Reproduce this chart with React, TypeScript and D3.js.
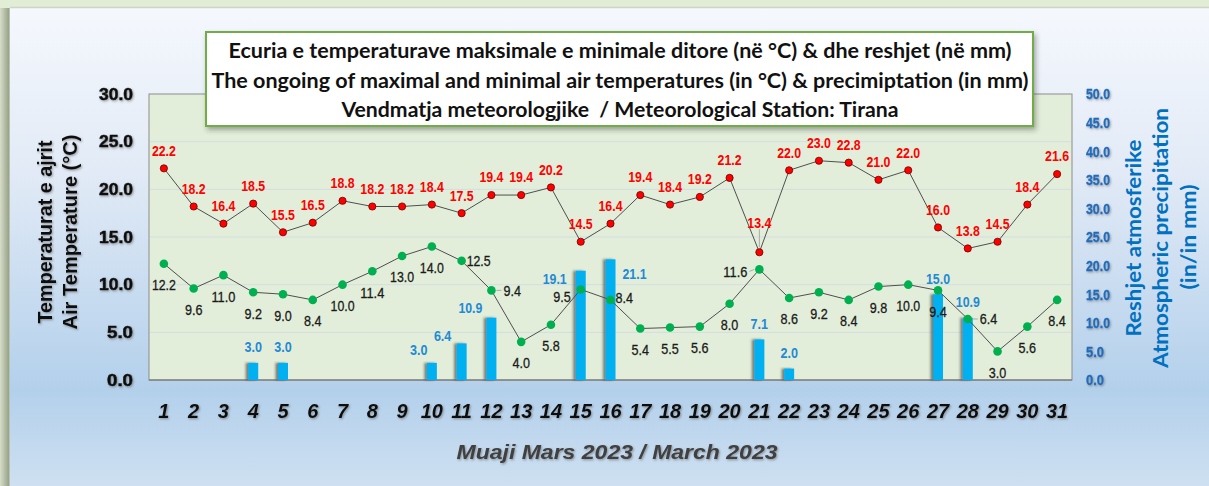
import React, { useEffect } from 'react';
import * as d3 from 'd3';

const days = [1, 2, 3, 4, 5, 6, 7, 8, 9, 10, 11, 12, 13, 14, 15, 16, 17, 18, 19, 20, 21, 22, 23, 24, 25, 26, 27, 28, 29, 30, 31];
const maxTemp = [22.2, 18.2, 16.4, 18.5, 15.5, 16.5, 18.8, 18.2, 18.2, 18.4, 17.5, 19.4, 19.4, 20.2, 14.5, 16.4, 19.4, 18.4, 19.2, 21.2, 13.4, 22.0, 23.0, 22.8, 21.0, 22.0, 16.0, 13.8, 14.5, 18.4, 21.6];
const minTemp = [12.2, 9.6, 11.0, 9.2, 9.0, 8.4, 10.0, 11.4, 13.0, 14.0, 12.5, 9.4, 4.0, 5.8, 9.5, 8.4, 5.4, 5.5, 5.6, 8.0, 11.6, 8.6, 9.2, 8.4, 9.8, 10.0, 9.4, 6.4, 3.0, 5.6, 8.4];
const precip = [0, 0, 0, 3.0, 3.0, 0, 0, 0, 0, 3.0, 6.4, 10.9, 0, 0, 19.1, 21.1, 0, 0, 0, 0, 7.1, 2.0, 0, 0, 0, 0, 15.0, 10.9, 0, 0, 0];
const tempTicks = [0, 5, 10, 15, 20, 25, 30];
const precipTicks = [0, 5, 10, 15, 20, 25, 30, 35, 40, 45, 50];
const titleLines = [
  'Ecuria e temperaturave maksimale e minimale ditore (në °C) & dhe reshjet (në mm)',
  'The ongoing of maximal and minimal air temperatures (in °C) & precimiptation (in mm)',
  'Vendmatja meteorologjike  / Meteorological Station: Tirana',
];
const leftTitle = ['Temperaturat e ajrit', 'Air Temperature (°C)'];
const rightTitle = ['Reshjet atmosferike', 'Atmospheric precipitation', '(in/in mm)'];
const xTitle = 'Muaji Mars 2023 / March 2023';

type Adj = { dx?: number; dy?: number; anchor?: 'start' | 'middle' | 'end'; leader?: boolean };
const maxLabelAdjust: Record<number, Adj> = { 21: { dy: -30, leader: true } };
const minLabelAdjust: Record<number, Adj> = {
  11: { dx: 5, dy: 0, anchor: 'start' },
  12: { dx: 12, dy: 0, anchor: 'start', leader: true },
  15: { dx: -10, dy: 7, anchor: 'end' },
  16: { dx: 5, dy: -2, anchor: 'start' },
  21: { dx: -12, dy: 2, anchor: 'end', leader: true },
  28: { dx: 12, dy: 0, anchor: 'start', leader: true },
};
const rainLabelAdjust: Record<number, Adj> = {
  10: { dx: -13, dy: -13 },
  11: { dx: -19, dy: -8 },
  12: { dx: -21, dy: -10 },
  15: { dx: -26, dy: 8 },
  16: { dx: 24, dy: 14 },
};

const W = 1209;
const H = 486;
const plot = { left: 149, right: 1072, top: 94, bottom: 380 };
const arial = '"Liberation Sans", Arial, sans-serif';
const lato = 'Lato, "Open Sans", sans-serif';
// narrow numeric labels: squeeze Liberation Sans to an Arial Narrow-like width
const narrowLen = (s: string) => (s.length >= 4 ? 24 : 17.5);

export default function App() {
  useEffect(() => {
    document.body.style.margin = '0';
    document.body.style.overflow = 'hidden';
  }, []);

  const x = d3.scaleBand<number>().domain(days).range([plot.left, plot.right]).padding(0);
  const cx = (d: number) => (x(d) as number) + x.bandwidth() / 2;
  const yT = d3.scaleLinear().domain([0, 30]).range([plot.bottom, plot.top]);
  const yP = d3.scaleLinear().domain([0, 50]).range([plot.bottom, plot.top]);

  const tempLine = d3.line<number>().x((_, i) => cx(days[i])).y((v) => yT(v));
  const barW = 10;

  const NumText = (p: { x: number; y: number; s: string; anchor?: string; fill: string; bold?: boolean }) => (
    <text
      x={p.x}
      y={p.y}
      dy="0.36em"
      textAnchor={p.anchor ?? 'middle'}
      fontFamily={arial}
      fontWeight={p.bold ? 'bold' : 'normal'}
      fontSize={15}
      fill={p.fill}
      stroke={p.bold ? 'none' : p.fill}
      strokeWidth={p.bold ? 0 : 0.3}
      textLength={narrowLen(p.s)}
      lengthAdjust="spacingAndGlyphs"
    >
      {p.s}
    </text>
  );

  return (
    <svg width={W} height={H} style={{ display: 'block' }} xmlns="http://www.w3.org/2000/svg">
      <defs>
        <linearGradient id="panelGrad" x1="0" y1="0" x2="0" y2="1">
          <stop offset="0%" stopColor="#f5f8fd" />
          <stop offset="35%" stopColor="#e1eaf6" />
          <stop offset="80%" stopColor="#b3d0eb" />
          <stop offset="100%" stopColor="#cee0f1" />
        </linearGradient>
        <linearGradient id="leftStrip" x1="0" y1="0" x2="1" y2="0">
          <stop offset="0%" stopColor="#d6ddc9" />
          <stop offset="85%" stopColor="#9aa58b" />
          <stop offset="100%" stopColor="#c9d0c2" />
        </linearGradient>
        <filter id="txtShadow" x="-20%" y="-20%" width="140%" height="160%">
          <feDropShadow dx="1" dy="1.2" stdDeviation="0.8" floodColor="#555" floodOpacity="0.55" />
        </filter>
        <filter id="boxShadow" x="-5%" y="-20%" width="110%" height="150%">
          <feDropShadow dx="2" dy="3" stdDeviation="2.5" floodColor="#333" floodOpacity="0.4" />
        </filter>
        <filter id="barShadow" x="-80%" y="-10%" width="200%" height="120%">
          <feDropShadow dx="-2.5" dy="0" stdDeviation="1.2" floodColor="#333" floodOpacity="0.6" />
        </filter>
      </defs>

      {/* background */}
      <rect x={0} y={0} width={W} height={H} fill="#e2edd5" />
      <rect x={0} y={8} width={10} height={H - 8} fill="url(#leftStrip)" />
      <rect x={10} y={8} width={W - 10} height={H - 8} fill="url(#panelGrad)" />
      <line x1={10} x2={W} y1={7.5} y2={7.5} stroke="#cfd3cc" strokeWidth={1.5} />

      {/* plot area */}
      <rect x={plot.left} y={plot.top} width={plot.right - plot.left} height={plot.bottom - plot.top} fill="#e2eed9" stroke="#8c8c8c" strokeWidth={1} />
      {tempTicks.slice(1, -1).map((t) => (
        <line key={'g' + t} x1={plot.left + 1} x2={plot.right - 1} y1={yT(t)} y2={yT(t)} stroke="#d3dde2" strokeWidth={1} />
      ))}
      <line x1={plot.left} x2={plot.right} y1={plot.bottom} y2={plot.bottom} stroke="#6f6f6f" strokeWidth={1.2} />

      {/* bars */}
      {days.map((d, i) =>
        precip[i] > 0 ? (
          <rect key={'b' + d} x={cx(d) - barW / 2} y={yP(precip[i])} width={barW} height={plot.bottom - yP(precip[i])} fill="#00b0f0" filter="url(#barShadow)" />
        ) : null
      )}

      {/* lines */}
      <path d={tempLine(maxTemp) || ''} fill="none" stroke="#4f4f4f" strokeWidth={1} />
      <path d={tempLine(minTemp) || ''} fill="none" stroke="#4f4f4f" strokeWidth={1} />

      {/* markers */}
      {days.map((d, i) => (
        <circle key={'mx' + d} cx={cx(d)} cy={yT(maxTemp[i])} r={3.6} fill="#ff0000" stroke="#6b0000" strokeWidth={0.8} />
      ))}
      {days.map((d, i) => (
        <circle key={'mn' + d} cx={cx(d)} cy={yT(minTemp[i])} r={4.3} fill="#00b050" />
      ))}

      {/* max labels */}
      {days.map((d, i) => {
        const a = maxLabelAdjust[d] || {};
        const px = cx(d);
        const py = yT(maxTemp[i]);
        const ly = py + (a.dy ?? -18);
        return (
          <g key={'lmx' + d}>
            {a.leader && <line x1={px} x2={px} y1={ly + 7} y2={py - 5} stroke="#999" strokeWidth={0.8} />}
            <NumText x={px + (a.dx ?? 0)} y={ly} s={maxTemp[i].toFixed(1)} anchor={a.anchor} fill="#ff0000" bold />
          </g>
        );
      })}

      {/* min labels */}
      {days.map((d, i) => {
        const a = minLabelAdjust[d] || {};
        const px = cx(d);
        const py = yT(minTemp[i]);
        const lx = px + (a.dx ?? 0);
        const ly = py + (a.dy ?? 21);
        const anchor = a.anchor ?? 'middle';
        return (
          <g key={'lmn' + d}>
            {a.leader && anchor === 'start' && <line x1={px + 5} x2={lx - 2} y1={py} y2={ly} stroke="#999" strokeWidth={0.8} />}
            {a.leader && anchor === 'end' && <line x1={lx + 2} x2={px - 5} y1={ly} y2={py} stroke="#999" strokeWidth={0.8} />}
            <NumText x={lx} y={ly} s={minTemp[i].toFixed(1)} anchor={anchor} fill="#1a1a1a" />
          </g>
        );
      })}

      {/* precip labels */}
      {days.map((d, i) => {
        if (!(precip[i] > 0)) return null;
        const a = rainLabelAdjust[d] || {};
        const px = cx(d);
        const py = yP(precip[i]);
        return <NumText key={'lp' + d} x={px + (a.dx ?? 0)} y={py + (a.dy ?? -16)} s={precip[i].toFixed(1)} fill="#2389d6" bold />;
      })}

      {/* left axis labels */}
      <g filter="url(#txtShadow)">
        {tempTicks.map((t) => (
          <text key={'lt' + t} x={133} y={yT(t)} dy="0.36em" textAnchor="end" fontFamily={arial} fontWeight="bold" fontSize={16} stroke="#111" strokeWidth={0.5} fill="#111" textLength={t >= 10 ? 34 : 26} lengthAdjust="spacingAndGlyphs">
            {t.toFixed(1)}
          </text>
        ))}
      </g>
      {/* right axis labels */}
      <g filter="url(#txtShadow)">
        {precipTicks.map((t) => (
          <text key={'rt' + t} x={1086} y={yP(t)} dy="0.36em" textAnchor="start" fontFamily={arial} fontWeight="bold" fontSize={15} fill="#1f6dbb" stroke="#1f6dbb" strokeWidth={0.3} textLength={t >= 10 ? 24 : 18} lengthAdjust="spacingAndGlyphs">
            {t.toFixed(1)}
          </text>
        ))}
      </g>

      {/* x ticks */}
      <g filter="url(#txtShadow)">
        {days.map((d) => (
          <text key={'xt' + d} x={cx(d)} y={418} textAnchor="middle" fontFamily={arial} fontWeight="bold" fontStyle="italic" fontSize={20} fill="#111">
            {d}
          </text>
        ))}
      </g>

      {/* x title */}
      <text x={617} y={459} textAnchor="middle" fontFamily={arial} fontWeight="bold" fontStyle="italic" fontSize={20} fill="#3f3f3f" textLength={321} lengthAdjust="spacingAndGlyphs" filter="url(#txtShadow)">
        {xTitle}
      </text>

      {/* left axis title */}
      <g filter="url(#txtShadow)">
        <text transform="translate(52,232) rotate(-90)" textAnchor="middle" fontFamily={arial} fontWeight="bold" fontSize={20} fill="#111" textLength={183} lengthAdjust="spacingAndGlyphs">
          {leftTitle[0]}
        </text>
        <text transform="translate(77,232) rotate(-90)" textAnchor="middle" fontFamily={arial} fontWeight="bold" fontSize={20} fill="#111" textLength={195} lengthAdjust="spacingAndGlyphs">
          {leftTitle[1]}
        </text>
      </g>

      {/* right axis title */}
      <text transform="translate(1141,238) rotate(-90)" textAnchor="middle" fontFamily={lato} fontWeight="bold" fontSize={21} fill="#0070c0" textLength={197} lengthAdjust="spacingAndGlyphs">
        {rightTitle[0]}
      </text>
      <text transform="translate(1168,238) rotate(-90)" textAnchor="middle" fontFamily={lato} fontWeight="bold" fontSize={21} fill="#0070c0" textLength={260} lengthAdjust="spacingAndGlyphs">
        {rightTitle[1]}
      </text>
      <text transform="translate(1196,237) rotate(-90)" textAnchor="middle" fontFamily={lato} fontWeight="bold" fontSize={21} fill="#0070c0" textLength={105} lengthAdjust="spacingAndGlyphs">
        {rightTitle[2]}
      </text>

      {/* title box */}
      <rect x={206} y={32} width={827} height={94} fill="#ffffff" stroke="#70ad47" strokeWidth={2} filter="url(#boxShadow)" />
      {titleLines.map((t, i) => (
        <text key={'tt' + i} x={620} y={58 + i * 29.5} textAnchor="middle" fontFamily={lato} fontWeight="bold" fontSize={20} fill="#111" textLength={[783, 817, 557][i]} lengthAdjust="spacingAndGlyphs" xmlSpace="preserve">
          {t}
        </text>
      ))}
    </svg>
  );
}
